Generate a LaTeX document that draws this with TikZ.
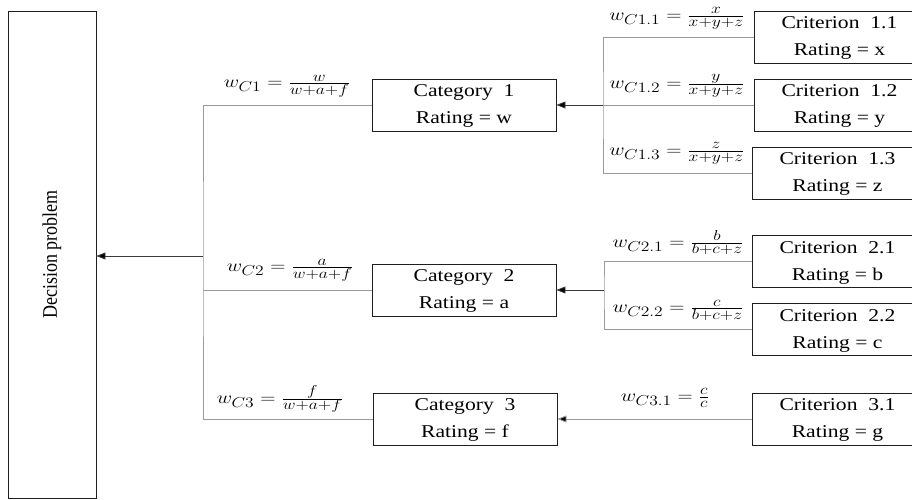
\documentclass[tikz,border=0pt]{standalone}
\usepackage{fontspec}
\usepackage{graphicx}
\setmainfont{Liberation Serif}
\usetikzlibrary{arrows.meta}
\definecolor{branchgray}{HTML}{9A9A9A}
\definecolor{linkgray}{HTML}{3A3A3A}
\definecolor{boxline}{HTML}{1E1E1E}
% two centred lines of box text, set a little wide
\newcommand{\twolines}[2]{\scalebox{1.2}[1]{\fontsize{18}{25}\selectfont
  \begin{tabular}{@{}c@{}}#1\\[2pt]#2\end{tabular}}}
% weight formulas, widened like the text
\newcommand{\wlabel}[1]{\scalebox{1.22}[1]{\fontsize{19}{24}\selectfont$#1$}}

\begin{document}
\begin{tikzpicture}[x=1pt,y=-1pt,
  box/.style={draw=boxline, line width=0.9pt, align=center, minimum height=52pt, inner sep=0pt},
  catbox/.style={box, minimum width=184pt},
  critbox/.style={box, minimum width=170pt, anchor=west},
  branch/.style={draw=branchgray, line width=0.9pt},
  link/.style={draw=linkgray, line width=0.9pt, -{Triangle[length=9pt,width=7pt,fill=black]}},
  weight/.style={inner sep=0pt}]
\useasboundingbox (0,0) rectangle (912,500);
\clip (0,0) rectangle (912,500);

% goal
\node[draw=boxline, line width=0.9pt, minimum width=88pt, minimum height=487pt, inner sep=0pt]
  (dp) at (52,254.5) {\rotatebox{90}{\scalebox{1}[1.15]{\fontsize{18}{22}\selectfont Decision\ problem}}};

% categories
\node[catbox] (cat1) at (464,105) {\twolines{Category\ \ 1}{Rating = w}};
\node[catbox] (cat2) at (464,290) {\twolines{Category\ \ 2}{Rating = a}};
\node[catbox] (cat3) at (465,419) {\twolines{Category\ \ 3}{Rating = f}};

% criteria
\node[critbox] (c11) at (754,37.5) {\twolines{Criterion\ \ 1.1}{Rating = x}};
\node[critbox] (c12) at (754,105) {\twolines{Criterion\ \ 1.2}{Rating = y}};
\node[critbox] (c13) at (752,173) {\twolines{Criterion\ \ 1.3}{Rating = z}};
\node[critbox] (c21) at (752,261.5) {\twolines{Criterion\ \ 2.1}{Rating = b}};
\node[critbox] (c22) at (752,329.5) {\twolines{Criterion\ \ 2.2}{Rating = c}};
\node[critbox] (c31) at (752,419) {\twolines{Criterion\ \ 3.1}{Rating = g}};

% junctions
\coordinate (j1) at (603,105);
\coordinate (j2) at (604,290);
\coordinate (sm) at (203,256);

% criteria -> categories
\draw[branch] (c11.west) -| (j1) |- (c13.west);
\draw[branch] (c12.west) -- (j1);
\draw[link] (j1) -- (cat1.east);
\draw[branch] (c21.west) -| (j2) |- (c22.west);
\draw[link] (j2) -- (cat2.east);
\draw[link, draw=branchgray] (c31.west) -- (cat3.east);

% categories -> goal
\draw[branch] (cat1.west) -| (sm) |- (cat3.west);
\draw[branch] (cat2.west) -- (cat2.west -| sm);
\draw[link] (sm) -- (sm -| dp.east);

% weights
\node[weight] (w1) at (287,86) {\wlabel{w_{C1} = \frac{w}{w+a+f}}};
\node[weight] (w2) at (290,270) {\wlabel{w_{C2} = \frac{a}{w+a+f}}};
\node[weight] (w3) at (280,399) {\wlabel{w_{C3} = \frac{f}{w+a+f}}};
\node[weight] (w11) at (677,18) {\wlabel{w_{C1.1} = \frac{x}{x+y+z}}};
\node[weight] (w12) at (677,86) {\wlabel{w_{C1.2} = \frac{y}{x+y+z}}};
\node[weight] (w13) at (677,153) {\wlabel{w_{C1.3} = \frac{z}{x+y+z}}};
\node[weight] (w21) at (678,243) {\wlabel{w_{C2.1} = \frac{b}{b+c+z}}};
\node[weight] (w22) at (678,310) {\wlabel{w_{C2.2} = \frac{c}{b+c+z}}};
\node[weight] (w31) at (665,398) {\wlabel{w_{C3.1} = \frac{c}{c}}};
\end{tikzpicture}
\end{document}
